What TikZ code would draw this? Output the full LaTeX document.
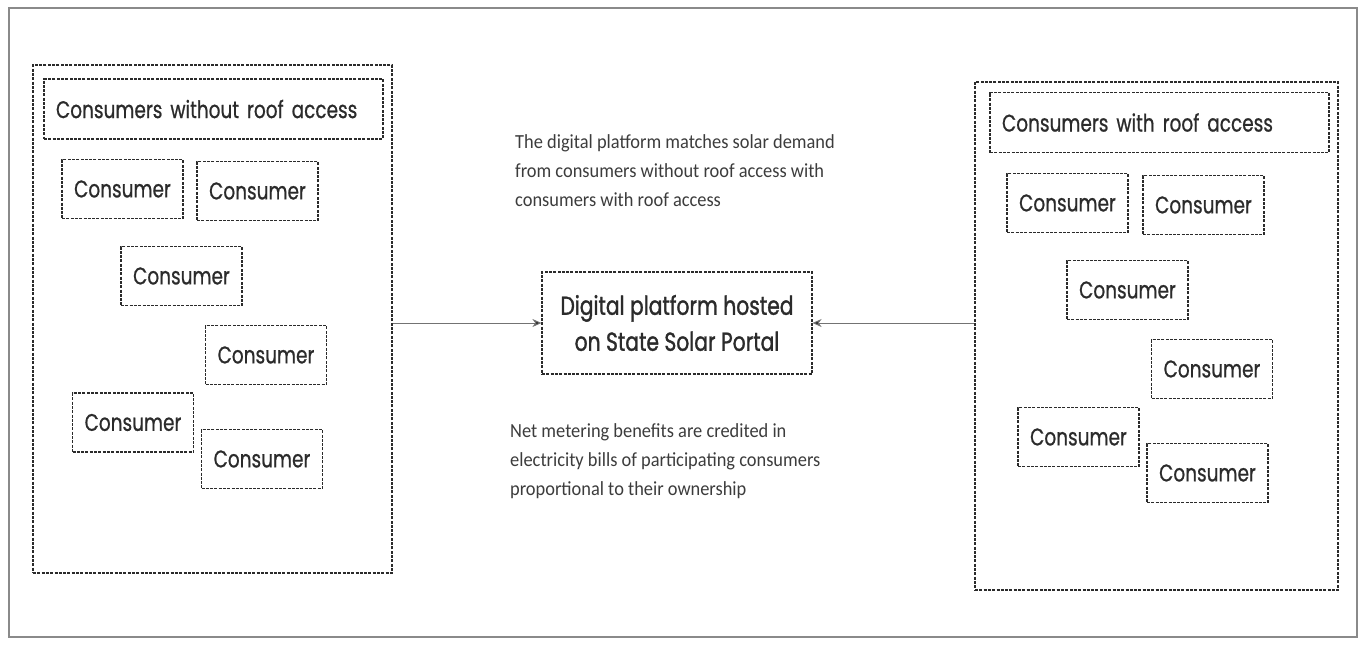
\documentclass[tikz,border=0pt]{standalone}
\usepackage{fontspec}
\setmainfont{Carlito}[FakeStretch=0.92]
\newfontfamily\gothic[FakeStretch=0.77,FakeBold=0.7]{Poppins}
\newfontfamily\gothicb[FakeStretch=0.78,FakeBold=1.3]{Poppins}
\usetikzlibrary{arrows.meta}
\definecolor{inkc}{HTML}{2B2B2B}
\definecolor{notec}{HTML}{3C3C3C}
\definecolor{framec}{HTML}{8A8A8A}
\tikzset{
	dashbox/.style = {rectangle, draw=inkc, line width=1.2pt,
		dash pattern=on 3pt off 1.3pt, inner sep=0pt, text=inkc},
	grp_box/.style = {dashbox},
	ttl_box/.style = {dashbox, text width=315pt, inner xsep=12pt, align=left,
		minimum height=60pt, font=\gothic\fontsize{24}{28}\selectfont},
	cons_box/.style = {dashbox, minimum width=121pt, minimum height=59pt,
		font=\gothic\fontsize{24}{28}\selectfont},
	hub_box/.style = {dashbox, align=center, minimum width=270pt,
		minimum height=102pt, font=\gothicb\fontsize{26}{36}\selectfont},
	note_txt/.style = {align=left, inner sep=0pt, text=notec,
		font=\fontsize{20}{29}\selectfont},
	link/.style = {draw=black!55, line width=0.9pt,
		-{Stealth[length=9pt,width=8pt,fill=inkc]}}
}
\begin{document}
\begin{tikzpicture}[x=1pt,y=-1pt]
\useasboundingbox (0,0) rectangle (1364,653);
\draw[framec, line width=2pt] (9,8) rectangle (1357,637);

% left group
\node [grp_box, minimum width=359pt, minimum height=508pt] (lgrp) at (212.5,319) {};
\node [ttl_box] (lttl) at (213.5,109) {Consumers without roof access};
\node [cons_box] (l1) at (122.5,189) {Consumer};
\node [cons_box] (l2) at (257.5,191) {Consumer};
\node [cons_box] (l3) at (181.5,276) {Consumer};
\node [cons_box] (l4) at (266,355) {Consumer};
\node [cons_box] (l5) at (133,422.5) {Consumer};
\node [cons_box] (l6) at (262,459) {Consumer};

% right group
\node [grp_box, minimum width=363pt, minimum height=508pt] (rgrp) at (1156.5,336) {};
\node [ttl_box] (rttl) at (1159.5,122.5) {Consumers with roof access};
\node [cons_box] (r1) at (1067.5,203) {Consumer};
\node [cons_box] (r2) at (1203.5,205) {Consumer};
\node [cons_box] (r3) at (1127.5,290) {Consumer};
\node [cons_box] (r4) at (1212,369) {Consumer};
\node [cons_box] (r5) at (1078.5,437) {Consumer};
\node [cons_box] (r6) at (1207.5,473) {Consumer};

% platform in the middle
\node [hub_box] (hub) at (677,323) {Digital platform hosted\\on State Solar Portal};
\node [note_txt, anchor=north west] (ntop) at (515,134)
	{The digital platform matches solar demand\\from consumers without roof access with\\consumers with roof access};
\node [note_txt, anchor=north west] (nbot) at (510,423)
	{Net metering benefits are credited in\\electricity bills of participating consumers\\proportional to their ownership};

\draw[link] (lgrp.east |- hub.west) -- (hub.west);
\draw[link] (rgrp.west |- hub.east) -- (hub.east);
\end{tikzpicture}
\end{document}
